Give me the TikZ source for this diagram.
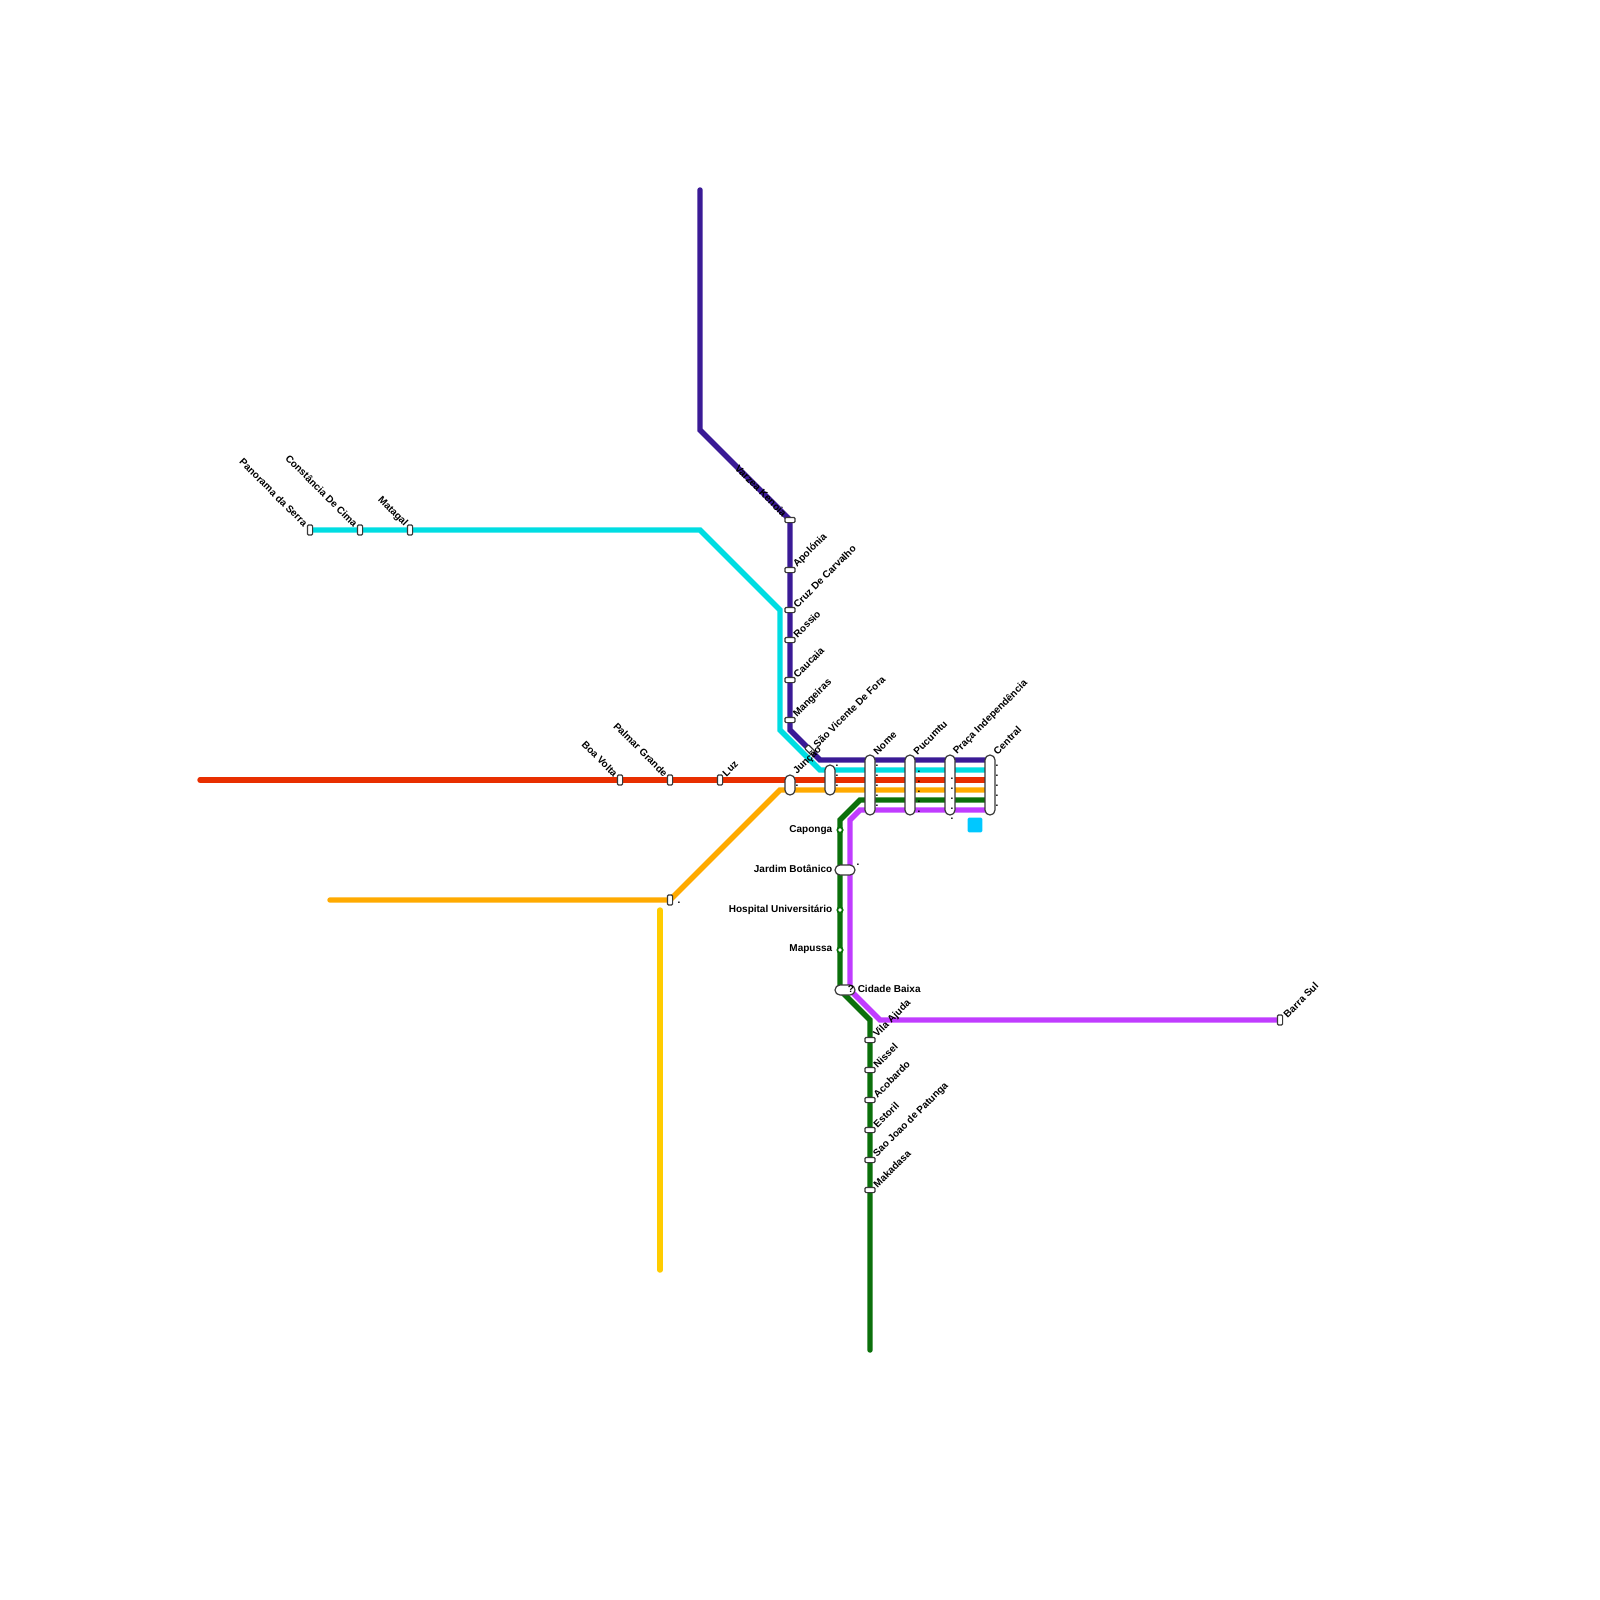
\documentclass[tikz,border=0pt]{standalone}
\usepackage{fontspec}
\setmainfont{Liberation Sans}
\usepackage{xcolor}
\usetikzlibrary{backgrounds}

\definecolor{lineViolet}{HTML}{3A1A96}
\definecolor{lineCyan}{HTML}{00DDE2}
\definecolor{lineRed}{HTML}{E82E00}
\definecolor{lineOrange}{HTML}{FFAA00}
\definecolor{lineYellow}{HTML}{FFCC00}
\definecolor{lineGreen}{HTML}{0B700B}
\definecolor{lineMagenta}{HTML}{C03CFF}
\definecolor{edgeGrey}{HTML}{383838}
\definecolor{squareBlue}{HTML}{00C8FF}

\begin{document}
\begin{tikzpicture}[
    x=0.75pt, y=-0.75pt,
    metro/.style={line width=4.1pt, line cap=round, line join=miter},
    stopbase/.style={rectangle, draw=edgeGrey, fill=white, line width=0.9pt, inner sep=0pt, outer sep=0pt},
    stoph/.style={stopbase, rounded corners=0.8pt, minimum width=7.5pt, minimum height=3.9pt},
    stopv/.style={stopbase, rounded corners=0.8pt, minimum width=3.9pt, minimum height=7.5pt},
    pill/.style={stopbase, rounded corners=3.7pt, minimum width=7.5pt},
    pillh/.style={stopbase, rounded corners=3.7pt, minimum width=15pt, minimum height=7.5pt},
    halt/.style={circle, draw=lineGreen, fill=white, line width=1.3pt, inner sep=0pt, minimum size=4pt},
    nameup/.style={font=\fontsize{7.5}{9}\selectfont\bfseries, inner sep=0pt, anchor=west, rotate=45},
    namedown/.style={font=\fontsize{7.5}{9}\selectfont\bfseries, inner sep=0pt, anchor=east, rotate=-45},
    nameflat/.style={font=\fontsize{7.5}{9}\selectfont\bfseries, inner sep=0pt},
    speck/.style={font=\fontsize{7.5}{9}\selectfont\bfseries, inner sep=0pt, anchor=base}
]
\useasboundingbox (0,0) rectangle (1600,1600);

% stations on the violet line
\node[stoph] (varzea) at (790,520) {};
\node[stoph] (apolonia) at (790,570) {};
\node[stoph] (cruz) at (790,610) {};
\node[stoph] (rossio) at (790,640) {};
\node[stoph] (caucaia) at (790,680) {};
\node[stoph] (mangeiras) at (790,720) {};
\node[stoph, rotate=-45] (vicente) at (810,750) {};

% interchanges
\node[pill, minimum height=15pt] (juncao) at (790,785) {};
\node[pill, minimum height=22.5pt] (anon) at (830,780) {};
\node[pill, minimum height=45pt] (nome) at (870,785) {};
\node[pill, minimum height=45pt] (pucumtu) at (910,785) {};
\node[pill, minimum height=45pt] (praca) at (950,785) {};
\node[pill, minimum height=45pt] (central) at (990,785) {};

% west branches
\node[stopv] (panorama) at (310,530) {};
\node[stopv] (constancia) at (360,530) {};
\node[stopv] (matagal) at (410,530) {};
\node[stopv] (boavolta) at (620,780) {};
\node[stopv] (palmar) at (670,780) {};
\node[stopv] (luz) at (720,780) {};
\node[stopv] (orangestop) at (670,900) {};

% green line south
\node[halt] (caponga) at (840,830) {};
\node[pillh] (jardim) at (845,870) {};
\node[halt] (hospital) at (840,910) {};
\node[halt] (mapussa) at (840,950) {};
\node[pillh] (cidade) at (845,990) {};
\node[stoph] (vila) at (870,1040) {};
\node[stoph] (nissel) at (870,1070) {};
\node[stoph] (acobardo) at (870,1100) {};
\node[stoph] (estoril) at (870,1130) {};
\node[stoph] (saojoao) at (870,1160) {};
\node[stoph] (makadasa) at (870,1190) {};
\node[stopv] (barra) at (1280,1020) {};

% free ends and bends
\coordinate (violetTop) at (700,190);
\coordinate (violetA) at (700,430);
\coordinate (violetB) at (790,730);
\coordinate (violetC) at (820,760);
\coordinate (violetEnd) at (990,760);
\coordinate (cyanA) at (700,530);
\coordinate (cyanB) at (780,610);
\coordinate (cyanC) at (780,730);
\coordinate (cyanD) at (820,770);
\coordinate (cyanEnd) at (990,770);
\coordinate (redStart) at (200,780);
\coordinate (redEnd) at (990,780);
\coordinate (orangeStart) at (330,900);
\coordinate (orangeA) at (780,790);
\coordinate (orangeEnd) at (990,790);
\coordinate (yellowTop) at (660,910);
\coordinate (yellowEnd) at (660,1270);
\coordinate (greenEnd) at (870,1350);
\coordinate (greenA) at (870,1020);
\coordinate (greenB) at (840,990);
\coordinate (greenC) at (840,820);
\coordinate (greenD) at (860,800);
\coordinate (greenStop) at (990,800);
\coordinate (magB) at (880,1020);
\coordinate (magC) at (850,990);
\coordinate (magD) at (850,820);
\coordinate (magE) at (860,810);
\coordinate (magEnd) at (990,810);

\begin{scope}[on background layer]
\draw[metro, lineMagenta] (barra.center) -- (magB) -- (magC) -- (magD) -- (magE) -- (magEnd);
\draw[metro, lineGreen] (greenEnd) -- (greenA) -- (greenB) -- (greenC) -- (greenD) -- (greenStop);
\draw[metro, lineYellow] (yellowTop) -- (yellowEnd);
\draw[metro, lineOrange] (orangeStart) -- (orangestop.center) -- (orangeA) -- (orangeEnd);
\draw[metro, lineRed] (redStart) -- (redEnd);
\draw[metro, lineCyan] (panorama.center) -- (cyanA) -- (cyanB) -- (cyanC) -- (cyanD) -- (cyanEnd);
\draw[metro, lineViolet] (violetTop) -- (violetA) -- (varzea.center) -- (violetB) -- (violetC) -- (violetEnd);
\end{scope}

% the blue square
\node[rectangle, rounded corners=1pt, fill=squareBlue, minimum size=11pt, inner sep=0pt] (bluesquare) at (975,825) {};

% names
\node[namedown] (nvarzea) at (785,515) {Varzea Kenoia};
\node[nameup] (napolonia) at (795,566) {Apolónia};
\node[nameup] (ncruz) at (795,606) {Cruz De Carvalho};
\node[nameup] (nrossio) at (795,636) {Rossio};
\node[nameup] (ncaucaia) at (795,676) {Caucaia};
\node[nameup] (nmangeiras) at (795,716) {Mangeiras};
\node[nameup] (nvicente) at (815,746) {São Vicente De Fora};
\node[nameup] (njuncao) at (795,773) {Junção};
\node[nameup] (nnome) at (875,753) {Nome};
\node[nameup] (npucumtu) at (915,753) {Pucumtu};
\node[nameup] (npraca) at (955,753) {Praça Independência};
\node[nameup] (ncentral) at (995,753) {Central};
\node[nameup] (nluz) at (724,775) {Luz};
\node[nameup] (nbarra) at (1285,1016) {Barra Sul};
\node[nameup] (nvila) at (875,1036) {Vila Ajuda};
\node[nameup] (nnissel) at (875,1066) {Nissel};
\node[nameup] (nacobardo) at (875,1096) {Acobardo};
\node[nameup] (nestoril) at (875,1126) {Estoril};
\node[nameup] (nsaojoao) at (875,1156) {Sao Joao de Patunga};
\node[nameup] (nmakadasa) at (875,1186) {Makadasa};
\node[namedown] (npanorama) at (306,525) {Panorama da Serra};
\node[namedown] (nconstancia) at (356,525) {Constância De Cima};
\node[namedown] (nmatagal) at (406,525) {Matagal};
\node[namedown] (nboavolta) at (616,775) {Boa Volta};
\node[namedown] (npalmar) at (666,775) {Palmar Grande};
\node[nameflat, anchor=east] (ncaponga) at (832.5,830) {Caponga};
\node[nameflat, anchor=east] (njardim) at (832.5,869) {Jardim Botânico};
\node[nameflat, anchor=east] (nhospital) at (832.5,909.5) {Hospital Universitário};
\node[nameflat, anchor=east] (nmapussa) at (832.5,949.5) {Mapussa};
\node[nameflat, anchor=west] (ncidade) at (857.5,989) {Cidade Baixa};
\node[nameflat] (qmark) at (851,989) {?};

% stray marks beside the interchanges
\foreach \x/\y in {797/786, 837/766, 837/776, 837/786, 877/766, 877/776, 877/786, 877/796, 877/806,
    919/772, 919/782, 919/792, 919/802, 919/812, 952/779, 952/789, 952/799, 952/809, 952/819,
    997/766, 997/776, 997/786, 997/796, 997/806, 679/903, 858/865}
    \node[speck] at (\x,\y) {.};

\end{tikzpicture}
\end{document}
